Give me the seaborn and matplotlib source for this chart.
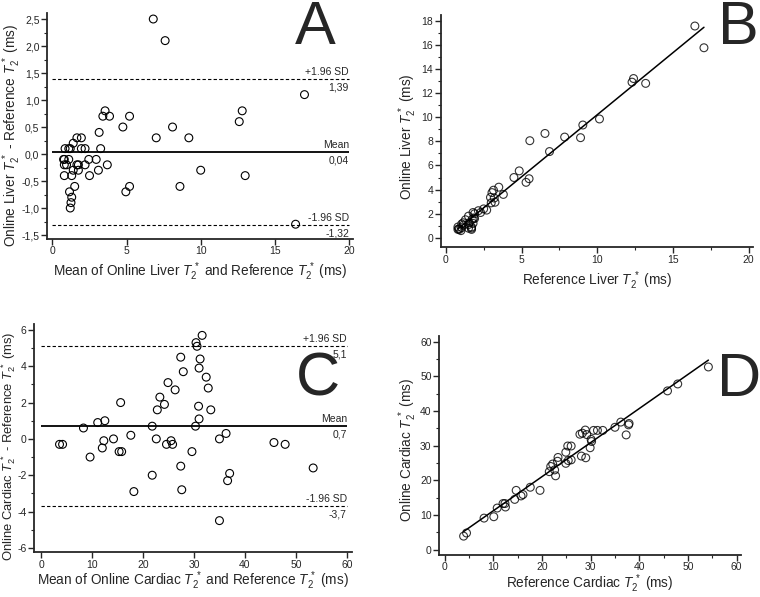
import matplotlib
matplotlib.use('Agg')
import pandas as pd
import matplotlib.pyplot as plt
from matplotlib.ticker import FuncFormatter, MultipleLocator
import seaborn as sns


# Panel A - Bland-Altman, liver
liver_mean = [6.8, 7.6, 17.0, 12.8, 12.6, 13.0, 16.4, 10.0, 9.2, 8.1, 8.6, 7.0,
              5.2, 4.75, 4.95, 5.2, 3.55, 3.4, 3.85, 3.15, 3.25, 3.7, 3.1, 2.95,
              2.5, 2.45, 2.2, 2.2, 1.95, 1.95, 1.65, 1.4, 1.65, 1.75, 1.4, 1.3,
              1.5, 1.15, 1.3, 1.25, 1.2, 0.8, 0.8, 0.8, 0.85, 1.1, 1.1, 0.95,
              1.2, 0.75, 1.75]
liver_diff = [2.5, 2.1, 1.1, 0.8, 0.6, -0.4, -1.3, -0.3, 0.3, 0.5, -0.6, 0.3,
              0.7, 0.5, -0.7, -0.6, 0.8, 0.7, 0.7, 0.4, 0.1, -0.2, -0.3, -0.1,
              -0.4, -0.1, -0.2, 0.1, 0.1, 0.3, 0.3, 0.2, -0.2, -0.3, -0.3, -0.4,
              -0.6, -0.7, -0.8, -0.9, -1.0, -0.1, -0.2, -0.4, 0.1, 0.1, -0.1, -0.2,
              0.1, -0.1, -0.2]
liver_limits = [0.04, 1.39, -1.32]   # mean, +1.96 SD, -1.96 SD

# Panel B - online vs reference, liver
liver_ref = [5.55, 6.55, 16.45, 12.4, 12.3, 13.2, 17.05, 10.15, 9.05, 7.85, 8.9,
             6.85, 4.85, 4.5, 5.3, 5.5, 3.15, 3.05, 3.5, 2.95, 3.2, 3.8, 3.25,
             3.0, 2.7, 2.5, 2.3, 2.15, 1.9, 1.8, 1.5, 1.3, 1.75, 1.9, 1.55, 1.5,
             1.8, 1.5, 1.7, 1.7, 1.7, 0.85, 0.9, 1.0, 0.8, 1.05, 1.15, 1.05,
             1.15, 0.8, 1.85]
liver_online = [8.05, 8.65, 17.55, 13.2, 12.9, 12.8, 15.75, 9.85, 9.35, 8.35,
                8.3, 7.15, 5.55, 5.0, 4.6, 4.9, 3.95, 3.75, 4.2, 3.35, 3.3, 3.6,
                2.95, 2.9, 2.3, 2.4, 2.1, 2.25, 2.0, 2.1, 1.8, 1.5, 1.55, 1.6,
                1.25, 1.1, 1.2, 0.8, 0.9, 0.8, 0.7, 0.75, 0.7, 0.6, 0.9, 1.15,
                1.05, 0.85, 1.25, 0.7, 1.65]

# Panel C - Bland-Altman, cardiac
cardiac_mean = [3.6, 4.2, 8.3, 9.6, 11.1, 12.5, 12.0, 12.3, 14.2, 15.3, 15.8,
                15.6, 17.6, 18.2, 21.8, 21.8, 22.6, 22.8, 23.3, 24.2, 24.9, 24.6,
                25.5, 25.8, 26.3, 27.4, 27.4, 27.6, 27.9, 29.6, 30.3, 30.4, 30.6,
                31.6, 31.0, 31.2, 30.9, 31.0, 32.4, 32.8, 33.3, 35.0, 35.0, 36.3,
                36.6, 37.0, 45.7, 47.9, 53.4]
cardiac_diff = [-0.3, -0.3, 0.6, -1.0, 0.9, 1.0, -0.5, -0.1, 0.0, -0.7, -0.7,
                2.0, 0.2, -2.9, 0.7, -2.0, 0.0, 1.6, 2.3, 1.9, 3.1, -0.3, -0.1,
                -0.3, 2.7, 4.5, -1.5, -2.8, 3.7, -0.7, 0.7, 5.3, 5.1, 5.7, 3.9,
                4.4, 1.8, 1.1, 3.4, 2.8, 1.6, 0.0, -4.5, 0.3, -2.3, -1.9, -0.2,
                -0.3, -1.6]
cardiac_limits = [0.7, 5.1, -3.7]

# Panel D - online vs reference, cardiac
cardiac_ref = [54.2, 47.9, 45.8, 37.8, 37.9, 37.3, 36.2, 35.0, 32.5, 31.4, 30.6,
               28.9, 29.2, 27.8, 28.3, 30.1, 30.2, 29.9, 29.0, 28.1, 26.0, 25.3,
               26.0, 25.4, 24.9, 24.9, 23.3, 23.2, 22.8, 22.6, 22.2, 21.8, 21.5,
               19.6, 17.6, 16.1, 15.7, 14.7, 14.4, 12.5, 12.4, 12.0, 10.8, 10.1,
               8.1, 4.5, 3.9]
cardiac_online = [52.7, 47.8, 45.8, 36.0, 36.4, 33.1, 36.8, 35.3, 34.4, 34.4,
                  34.4, 34.5, 33.2, 33.3, 33.6, 31.8, 31.2, 29.4, 26.5, 27.0,
                  29.9, 29.9, 25.9, 25.7, 28.1, 24.9, 26.6, 25.5, 21.3, 23.0,
                  24.7, 24.0, 22.5, 17.1, 18.0, 15.9, 15.5, 17.1, 14.5, 12.3,
                  13.3, 13.3, 12.0, 9.5, 9.1, 4.8, 3.9]

T2 = r'$\mathit{T}_2^{\,*}$'
MARKER = dict(marker='o', s=32, facecolor='none', edgecolor='black', linewidth=0.8)
LABEL_FS = 9.8


def comma(x, pos):
    return ('%g' % x).replace('.', ',')


def comma_fixed(x, pos):
    return ('%.1f' % x).replace('.', ',')


def style_axes(ax, xlim, ylim, xmaj, xmin_, ymaj, ymin_, yfmt):
    ax.set_xlim(*xlim)
    ax.set_ylim(*ylim)
    ax.xaxis.set_major_locator(MultipleLocator(xmaj))
    ax.xaxis.set_minor_locator(MultipleLocator(xmin_))
    ax.yaxis.set_major_locator(MultipleLocator(ymaj))
    ax.yaxis.set_minor_locator(MultipleLocator(ymin_))
    ax.yaxis.set_major_formatter(FuncFormatter(yfmt))
    ax.xaxis.set_major_formatter(FuncFormatter(comma))
    sns.despine(ax=ax)
    for side in ['left', 'bottom']:
        ax.spines[side].set_linewidth(1.3)
    ax.tick_params(which='major', length=4, width=1, labelsize=7.5, pad=1.5)
    ax.tick_params(which='minor', length=2.5, width=0.8)


def bland_altman(ax, mean, diff, limits, xmax, fmt_val):
    df = pd.DataFrame({'mean': mean, 'diff': diff})
    sns.scatterplot(data=df, x='mean', y='diff', ax=ax, **MARKER)
    bias, upper, lower = limits
    ax.hlines(bias, 0, xmax, color='black', linewidth=1.3)
    ax.hlines([upper, lower], 0, xmax, color='black', linewidth=0.8,
              linestyles=(0, (3, 2)))
    span = ax.get_ylim()[1] - ax.get_ylim()[0]
    off = span * 0.008
    for val, name in [(bias, 'Mean'), (upper, '+1.96 SD'), (lower, '-1.96 SD')]:
        ax.text(xmax, val + off, name, ha='right', va='bottom', fontsize=7.5)
        ax.text(xmax, val - off * 2, fmt_val(val), ha='right', va='top',
                fontsize=7.5)


def scatter_fit(ax, ref, online):
    df = pd.DataFrame({'ref': ref, 'online': online})
    sns.regplot(data=df, x='ref', y='online', ax=ax, ci=None,
                scatter_kws=dict(s=32, facecolor='none', edgecolor='black',
                                 linewidths=0.8),
                line_kws=dict(color='black', linewidth=1.1))


def main():
    sns.set_style('ticks')
    plt.rcParams['font.family'] = ['Liberation Sans', 'DejaVu Sans']
    plt.rcParams['mathtext.fontset'] = 'custom'
    plt.rcParams['mathtext.rm'] = 'Liberation Sans'
    plt.rcParams['mathtext.it'] = 'Liberation Sans:italic'
    plt.rcParams['axes.unicode_minus'] = False

    fig = plt.figure(figsize=(7.6, 5.97), dpi=100)
    ax_a = fig.add_axes([0.062, 0.600, 0.403, 0.379])
    ax_b = fig.add_axes([0.580, 0.586, 0.411, 0.389])
    ax_c = fig.add_axes([0.045, 0.075, 0.418, 0.383])
    ax_d = fig.add_axes([0.578, 0.071, 0.397, 0.366])

    # A
    style_axes(ax_a, (-0.36, 20.3), (-1.57, 2.62), 5, 5, 0.5, 0.25, comma_fixed)
    bland_altman(ax_a, liver_mean, liver_diff, liver_limits, 20,
                 lambda v: ('%.2f' % v).replace('.', ','))
    ax_a.set_xlabel('Mean of Online Liver ' + T2 + ' and Reference ' + T2 + ' (ms)',
                    fontsize=LABEL_FS, labelpad=3)
    ax_a.set_ylabel('Online Liver ' + T2 + ' - Reference ' + T2 + ' (ms)',
                    fontsize=LABEL_FS)
    ax_a.yaxis.set_label_coords(-0.080, 0.456)

    # B
    style_axes(ax_b, (-0.33, 20.3), (-0.77, 18.47), 5, 2.5, 2, 1, comma)
    scatter_fit(ax_b, liver_ref, liver_online)
    ax_b.set_xlabel('Reference Liver ' + T2 + ' (ms)', fontsize=LABEL_FS, labelpad=3)
    ax_b.set_ylabel('Online Liver ' + T2 + ' (ms)', fontsize=LABEL_FS)
    ax_b.yaxis.set_label_coords(-0.070, 0.474)

    # C
    style_axes(ax_c, (-1.37, 61.0), (-6.24, 6.35), 10, 10, 2, 1, comma)
    bland_altman(ax_c, cardiac_mean, cardiac_diff, cardiac_limits, 60,
                 lambda v: ('%.1f' % v).replace('.', ','))
    ax_c.set_xlabel('Mean of Online Cardiac ' + T2 + ' and Reference ' + T2 + ' (ms)',
                    fontsize=LABEL_FS, labelpad=0)
    ax_c.set_ylabel('Online Cardiac ' + T2 + ' - Reference ' + T2 + ' (ms)',
                    fontsize=9.4)
    ax_c.yaxis.set_label_coords(-0.052, 0.465)

    # D
    style_axes(ax_d, (-1.1, 60.9), (-1.43, 61.6), 10, 5, 10, 5, comma)
    scatter_fit(ax_d, cardiac_ref, cardiac_online)
    ax_d.set_xlabel('Reference Cardiac ' + T2 + ' (ms)', fontsize=LABEL_FS, labelpad=0)
    ax_d.set_ylabel('Online Cardiac ' + T2 + ' (ms)', fontsize=LABEL_FS)
    ax_d.yaxis.set_label_coords(-0.066, 0.477)

    # panel letters
    for letter, x, y in [('A', 0.415, 0.953), ('B', 0.972, 0.953),
                         ('C', 0.418, 0.364), ('D', 0.972, 0.362)]:
        fig.text(x, y, letter, fontsize=44, ha='center', va='center')

    fig.savefig('out.png', dpi=100)


if __name__ == '__main__':
    main()
